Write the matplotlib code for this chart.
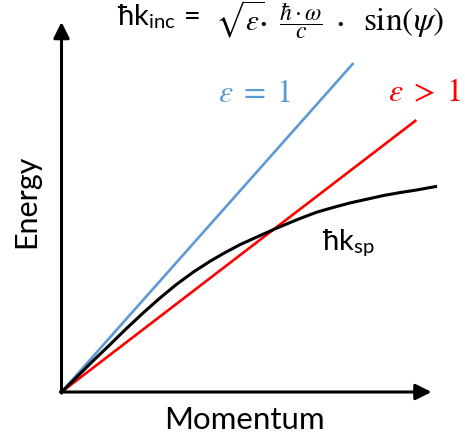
import numpy as np
import matplotlib.pyplot as plt

# --- data (axes scaled so the arrows end at 1) ---
eps1_line_x = [0.0, 0.789]
eps1_line_y = [0.0, 0.889]
epsgt1_line_x = [0.0, 0.959]
epsgt1_line_y = [0.0, 0.735]
ksp_x = [0.0, 0.043, 0.086, 0.131, 0.176, 0.221, 0.266, 0.311, 0.356, 0.401,
         0.437, 0.482, 0.528, 0.582, 0.618, 0.65, 0.69, 0.735, 0.78, 0.825,
         0.87, 0.915, 0.96, 1.015]
ksp_y = [0.0, 0.042, 0.085, 0.128, 0.172, 0.214, 0.254, 0.291, 0.324, 0.353,
         0.374, 0.398, 0.419, 0.443, 0.458, 0.471, 0.486, 0.499, 0.511, 0.521,
         0.531, 0.539, 0.546, 0.556]

plt.rcParams['font.family'] = ['Lato', 'DejaVu Sans']
plt.rcParams['mathtext.fontset'] = 'stix'

fig = plt.figure(figsize=(4.65, 4.39), dpi=100)
ax = fig.add_axes([0, 0, 1, 1])
ax.set_xlim(-61.5 / 370, (465 - 61.5) / 370)
ax.set_ylim(-46 / 370, 393 / 370)
ax.axis('off')

# axes arrows
arrow = dict(arrowstyle='-|>', lw=2.2, color='black', mutation_scale=24,
             shrinkA=0, shrinkB=0)
ax.annotate('', xy=(1.0, 0), xytext=(-0.003, 0), arrowprops=arrow)
ax.annotate('', xy=(0, 1.0), xytext=(0, -0.003), arrowprops=arrow)

ax.plot(eps1_line_x, eps1_line_y, color='#5B9BD5', lw=1.9, solid_capstyle='butt')
ax.plot(epsgt1_line_x, epsgt1_line_y, color='#FF0000', lw=1.9, solid_capstyle='butt')
ax.plot(ksp_x, ksp_y, color='black', lw=2.2, solid_capstyle='butt')

# labels
ax.text(0.494, -0.072, 'Momentum', fontsize=22.5, ha='center', va='center')
ax.text(-0.096, 0.519, 'Energy', fontsize=22, ha='center', va='center',
        rotation=90)
ax.text(0.52, 0.812, r'$\varepsilon\;=\;1$', color='#5B9BD5', fontsize=23,
        ha='center', va='center')
ax.text(0.98, 0.812, r'$\varepsilon\;>\;1$', color='#FF0000', fontsize=23,
        ha='center', va='center')
ax.text(0.776, 0.405, r'ħk$_\mathregular{sp}$', fontsize=21,
        ha='center', va='center')

# formula at the top, laid out in pieces so the fraction keeps its size
yb = 0.981
ax.text(0.15, 0.995, r'ħk$_\mathregular{inc}$ =', fontsize=21,
        ha='left', va='baseline')
ax.text(0.415, yb, r'$\sqrt{\varepsilon}$', fontsize=21, ha='left', va='baseline')
ax.text(0.545, 0.976, '·', fontsize=21, ha='center', va='baseline')
ax.text(0.647, yb, r'$\dfrac{\hbar\cdot\omega}{c}$', fontsize=17,
        ha='center', va='baseline')
ax.text(0.753, 0.976, '·', fontsize=21, ha='center', va='baseline')
ax.text(0.815, yb, r'$\sin(\psi)$', fontsize=24, ha='left', va='baseline')

fig.savefig('out.png', dpi=100)
